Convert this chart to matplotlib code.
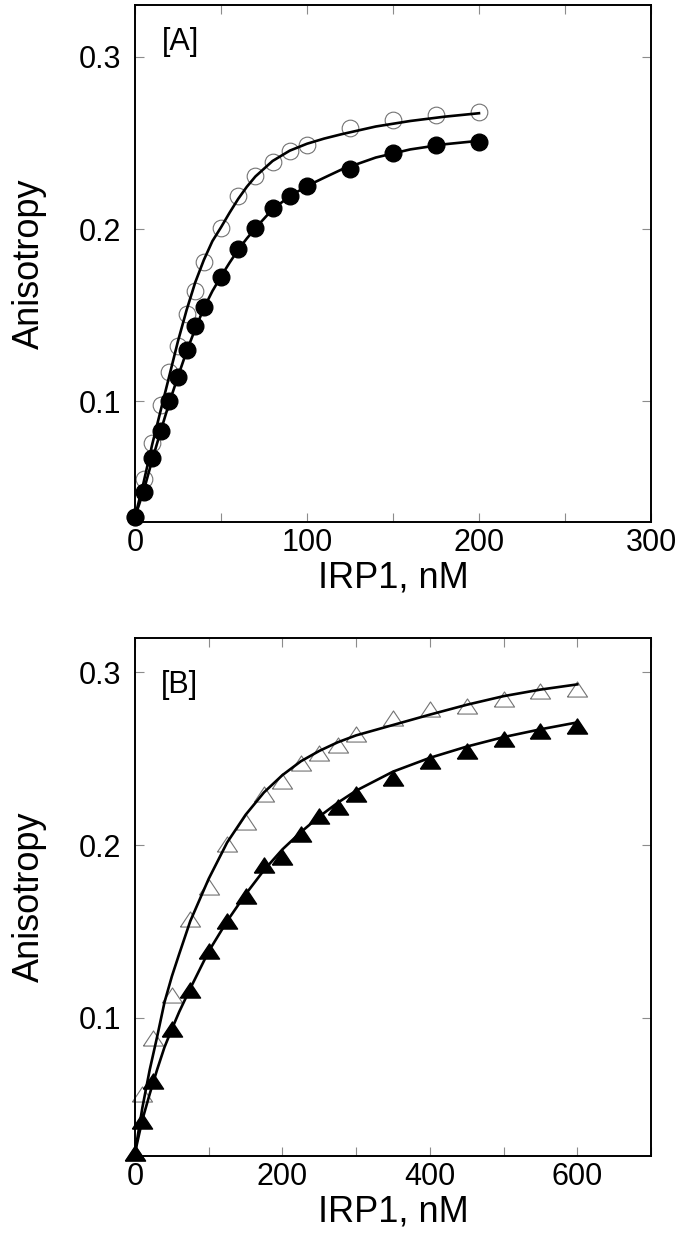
import numpy as np
import matplotlib
matplotlib.use("Agg")
import matplotlib.pyplot as plt
from matplotlib.ticker import MultipleLocator

plt.rcParams['font.family'] = ['Liberation Sans', 'DejaVu Sans']

# panel A: IRP1 titration (circles)
conc_a = [0, 5, 10, 15, 20, 25, 30, 35, 40, 50, 60, 70, 80, 90, 100, 125, 150, 175, 200]
open_a = [0.033, 0.055, 0.076, 0.098, 0.117, 0.132, 0.151, 0.164, 0.181, 0.2005,
          0.219, 0.231, 0.239, 0.2455, 0.249, 0.2585, 0.263, 0.266, 0.268]
filled_a = [0.033, 0.0475, 0.067, 0.0826, 0.100, 0.1144, 0.130, 0.1435, 0.1548, 0.172,
            0.1884, 0.2007, 0.212, 0.2194, 0.2249, 0.2349, 0.2443, 0.2487, 0.2508]

# fitted curves A
fit_x_a = [0, 5, 10, 15, 20, 25, 30, 35, 40, 45, 50, 55, 60, 65, 70, 80, 90, 100,
           110, 120, 140, 160, 180, 200]
fit_open_a = [0.033, 0.053, 0.075, 0.095, 0.115, 0.135, 0.153, 0.169, 0.182, 0.193,
              0.201, 0.2095, 0.2175, 0.2245, 0.2305, 0.2395, 0.2455, 0.2495, 0.2525,
              0.255, 0.2595, 0.2627, 0.2652, 0.2672]
fit_filled_a = [0.033, 0.048, 0.066, 0.083, 0.0995, 0.1145, 0.129, 0.142, 0.154, 0.164,
                0.1725, 0.1805, 0.188, 0.1945, 0.2005, 0.2115, 0.219, 0.225, 0.2298,
                0.2345, 0.2415, 0.2462, 0.2492, 0.2512]

# panel B: IRP1 titration (triangles)
conc_b = [0, 10, 25, 50, 75, 100, 125, 150, 175, 200, 225, 250, 275, 300, 350, 400,
          450, 500, 550, 600]
open_b = [0.022, 0.0557, 0.0885, 0.1135, 0.157, 0.176, 0.2005, 0.2135, 0.2295, 0.2373,
          0.2474, 0.2532, 0.2582, 0.2642, 0.2738, 0.279, 0.2806, 0.2844, 0.289, 0.2902]
filled_b = [0.022, 0.0404, 0.0634, 0.0937, 0.1163, 0.1386, 0.1562, 0.1708, 0.1882,
            0.1933, 0.2064, 0.2167, 0.2222, 0.2298, 0.2388, 0.2487, 0.2545, 0.2615,
            0.2662, 0.2692]

# fitted curves B
fit_x_b = [0, 10, 20, 30, 40, 50, 60, 75, 100, 125, 150, 175, 200, 225, 250, 275, 300,
           350, 400, 450, 500, 550, 600]
fit_open_b = [0.022, 0.048, 0.070, 0.089, 0.109, 0.124, 0.137, 0.156, 0.1805, 0.2015,
              0.2175, 0.2305, 0.2405, 0.2485, 0.2545, 0.2595, 0.2635, 0.2695, 0.2755,
              0.2812, 0.2862, 0.290, 0.293]
fit_filled_b = [0.022, 0.041, 0.056, 0.070, 0.083, 0.0935, 0.1035, 0.117, 0.1385, 0.156,
                0.1715, 0.1855, 0.1975, 0.2075, 0.2165, 0.2245, 0.2315, 0.2425, 0.2505,
                0.257, 0.2625, 0.267, 0.271]

# flattened triangle marker (closed path)
tri = [(-1, -0.75), (1, -0.75), (0, 0.75), (-1, -0.75)]

fig = plt.figure(figsize=(6.75, 12.51), dpi=100)
ax_a = fig.add_axes([0.2, 0.5827, 0.7644, 0.4133])
ax_b = fig.add_axes([0.2, 0.0759, 0.7644, 0.4143])


def style_axes(ax):
    for s in ax.spines.values():
        s.set_linewidth(1.4)
    ax.tick_params(which='both', direction='in', top=True, right=True,
                   length=6.5, width=0.8, color='0.55', labelsize=22)
    ax.tick_params(axis='x', which='both', pad=4)
    ax.tick_params(axis='y', which='both', pad=10)
    ax.set_xlabel('IRP1, nM', fontsize=26, labelpad=2)
    ax.set_ylabel('Anisotropy', fontsize=26, labelpad=23)
    ax.set_yticks([0.1, 0.2, 0.3])
    ax.set_yticklabels(['0.1', '0.2', '0.3'])


# panel A
ax_a.plot(conc_a, open_a, 'o', ms=12, mfc='none', mec='0.45', mew=0.8, clip_on=False, zorder=2)
ax_a.plot(conc_a, filled_a, 'o', ms=12, color='black', clip_on=False, zorder=2)
ax_a.plot(fit_x_a, fit_open_a, color='black', lw=1.9, zorder=3)
ax_a.plot(fit_x_a, fit_filled_a, color='black', lw=1.9, zorder=3)
ax_a.set_xlim(0, 300)
ax_a.set_ylim(0.03, 0.33)
ax_a.xaxis.set_major_locator(MultipleLocator(100))
ax_a.xaxis.set_minor_locator(MultipleLocator(50))
style_axes(ax_a)
ax_a.text(0.053, 0.913, '[A]', transform=ax_a.transAxes, fontsize=22, ha='left', va='baseline')

# panel B
ax_b.plot(conc_b, open_b, marker=tri, ls='none', ms=14.5, mfc='none', mec='0.45', mew=0.8,
          clip_on=False, zorder=2)
ax_b.plot(conc_b, filled_b, marker=tri, ls='none', ms=14.5, color='black', clip_on=False, zorder=2)
ax_b.plot(fit_x_b, fit_open_b, color='black', lw=1.9, zorder=3)
ax_b.plot(fit_x_b, fit_filled_b, color='black', lw=1.9, zorder=3)
ax_b.set_xlim(0, 700)
ax_b.set_ylim(0.02, 0.32)
ax_b.xaxis.set_major_locator(MultipleLocator(200))
ax_b.xaxis.set_minor_locator(MultipleLocator(100))
style_axes(ax_b)
ax_b.text(0.051, 0.893, '[B]', transform=ax_b.transAxes, fontsize=22, ha='left', va='baseline')

fig.savefig('out.png', dpi=100)
